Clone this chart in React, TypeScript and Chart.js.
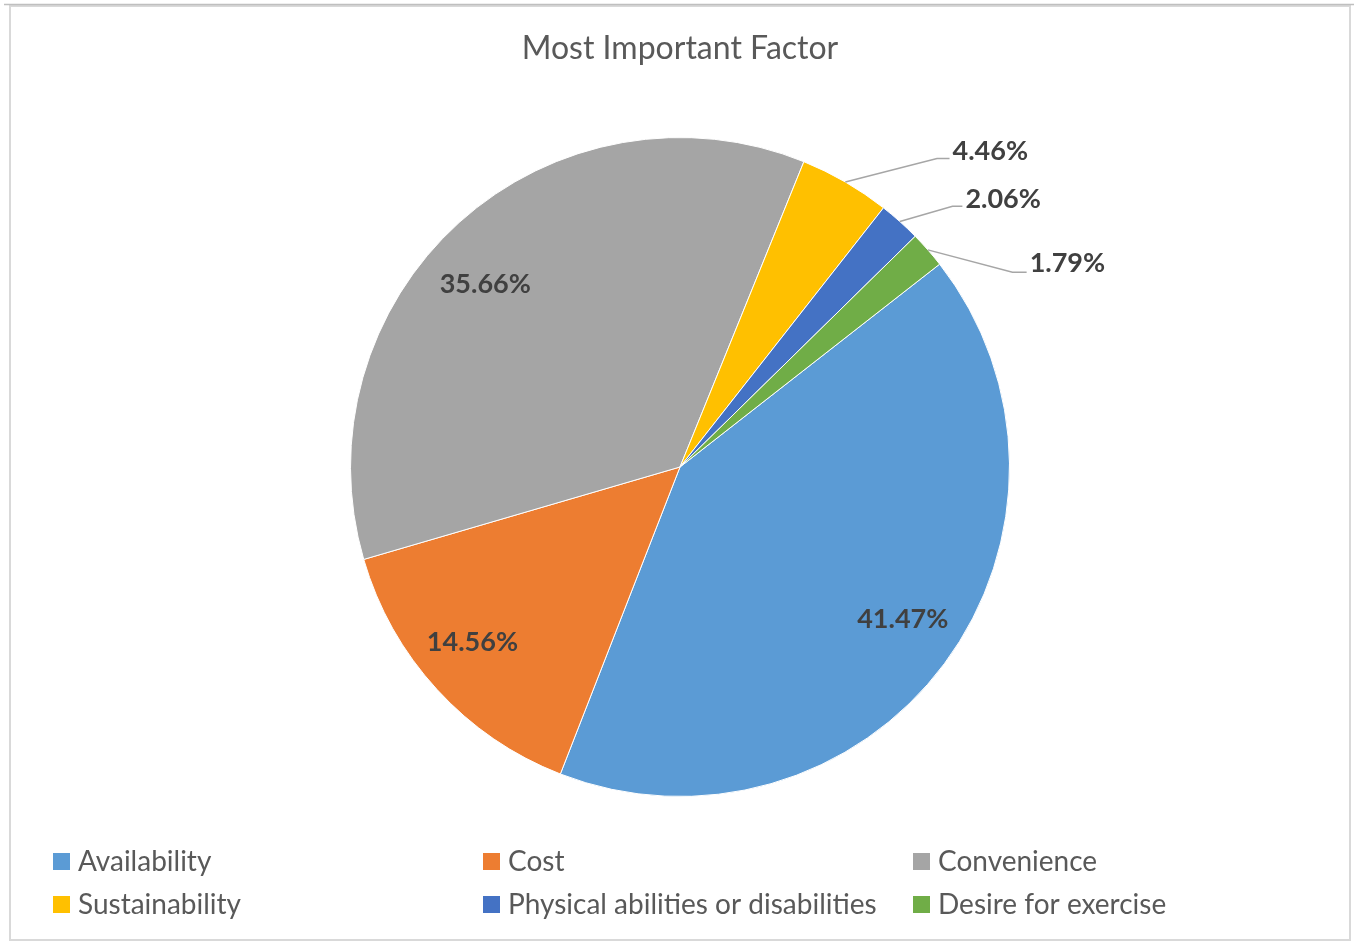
import React, { useEffect, useRef } from "react";
import { Chart, registerables } from "chart.js";

Chart.register(...registerables);

const TITLE = "Most Important Factor";
const CATEGORIES = [
  "Availability",
  "Cost",
  "Convenience",
  "Sustainability",
  "Physical abilities or disabilities",
  "Desire for exercise",
];
const VALUES = [41.47, 14.56, 35.66, 4.46, 2.06, 1.79];
const COLORS = ["#5B9BD5", "#ED7D31", "#A5A5A5", "#FFC000", "#4472C4", "#70AD47"];

const FONT = "Lato, 'Open Sans', sans-serif";
const TEXT_COLOR = "#595959";
const LABEL_COLOR = "#404040";

// Inside-label anchor (units of pie radius, relative to centre)
const INSIDE: Record<number, { dx: number; dy: number }> = {
  0: { dx: 0.676, dy: 0.461 },
  1: { dx: -0.63, dy: 0.533 },
  2: { dx: -0.591, dy: -0.555 },
};
// Outside-label leader geometry (units of pie radius, relative to centre)
const OUTSIDE: Record<number, { ex: number; ey: number; hx: number; ty: number }> = {
  3: { ex: 0.78, ey: -0.936, hx: 0.818, ty: -7 },
  4: { ex: 0.827, ey: -0.791, hx: 0.857, ty: -7 },
  5: { ex: 1.009, ey: -0.591, hx: 1.052, ty: -9 },
};

const fmt = (v: number) => v.toFixed(2) + "%";

const decorPlugin = {
  id: "decor",
  beforeDraw(chart: any) {
    const { ctx, width, height } = chart;
    ctx.save();
    ctx.fillStyle = "#ffffff";
    ctx.fillRect(0, 0, width, height);
    // frame
    ctx.strokeStyle = "#d9d9d9";
    ctx.lineWidth = 2;
    ctx.strokeRect(10, 6, 1340, 934);
    ctx.strokeStyle = "#bfbfbf";
    ctx.lineWidth = 1.5;
    ctx.beginPath();
    ctx.moveTo(4, 4.5);
    ctx.lineTo(1354, 4.5);
    ctx.stroke();
    // title
    ctx.fillStyle = TEXT_COLOR;
    ctx.font = `32px ${FONT}`;
    ctx.textAlign = "center";
    ctx.textBaseline = "middle";
    ctx.fillText(TITLE, 680, 49);
    ctx.restore();
  },
  afterDatasetsDraw(chart: any) {
    const { ctx } = chart;
    const meta = chart.getDatasetMeta(0);
    const data = chart.data.datasets[0].data as number[];
    ctx.save();
    ctx.font = `bold 27px ${FONT}`;
    ctx.fillStyle = LABEL_COLOR;
    meta.data.forEach((arc: any, i: number) => {
      const { x, y, startAngle, endAngle, outerRadius: R } = arc.getProps(
        ["x", "y", "startAngle", "endAngle", "outerRadius"],
        true
      );
      const mid = (startAngle + endAngle) / 2;
      const text = fmt(data[i]);
      const o = OUTSIDE[i];
      if (!o) {
        const p = INSIDE[i];
        ctx.textAlign = "center";
        ctx.textBaseline = "middle";
        ctx.fillText(text, x + p.dx * R, y + p.dy * R);
      } else {
        const sx = x + Math.cos(mid) * R;
        const sy = y + Math.sin(mid) * R;
        const ex = x + o.ex * R;
        const ey = y + o.ey * R;
        const hx = x + o.hx * R;
        ctx.strokeStyle = "#a6a6a6";
        ctx.lineWidth = 1.5;
        ctx.beginPath();
        ctx.moveTo(sx, sy);
        ctx.lineTo(ex, ey);
        ctx.lineTo(hx, ey);
        ctx.stroke();
        ctx.textAlign = "left";
        ctx.textBaseline = "middle";
        ctx.fillText(text, hx + 3, ey + o.ty);
      }
    });
    ctx.restore();
  },
  afterDraw(chart: any) {
    const { ctx } = chart;
    const labels = chart.data.labels as string[];
    const colors = chart.data.datasets[0].backgroundColor as string[];
    ctx.save();
    ctx.font = `28px ${FONT}`;
    ctx.textAlign = "left";
    ctx.textBaseline = "middle";
    labels.forEach((lab, i) => {
      const col = i % 3;
      const row = Math.floor(i / 3);
      const bx = 53 + col * 430;
      const cy = 861 + row * 43;
      ctx.fillStyle = colors[i];
      ctx.fillRect(bx, cy - 8, 17, 17);
      ctx.fillStyle = TEXT_COLOR;
      ctx.fillText(lab, bx + 25, cy + 1);
    });
    ctx.restore();
  },
};

export default function App() {
  const ref = useRef<HTMLCanvasElement | null>(null);
  useEffect(() => {
    if (!ref.current) return;
    const chart = new Chart(ref.current, {
      type: "pie",
      data: {
        labels: CATEGORIES,
        datasets: [
          {
            data: VALUES,
            backgroundColor: COLORS,
            borderColor: "#ffffff",
            borderWidth: 1,
          },
        ],
      },
      options: {
        responsive: false,
        animation: false,
        devicePixelRatio: 1,
        rotation: 52,
        layout: { padding: { left: 350, right: 344, top: 137, bottom: 145 } },
        plugins: {
          legend: { display: false },
          title: { display: false },
          tooltip: { enabled: false },
        },
      },
      plugins: [decorPlugin],
    });
    return () => chart.destroy();
  }, []);
  return (
    <div style={{ position: "absolute", left: 0, top: 0, width: 1354, height: 942 }}>
      <canvas ref={ref} width={1354} height={942} />
    </div>
  );
}
